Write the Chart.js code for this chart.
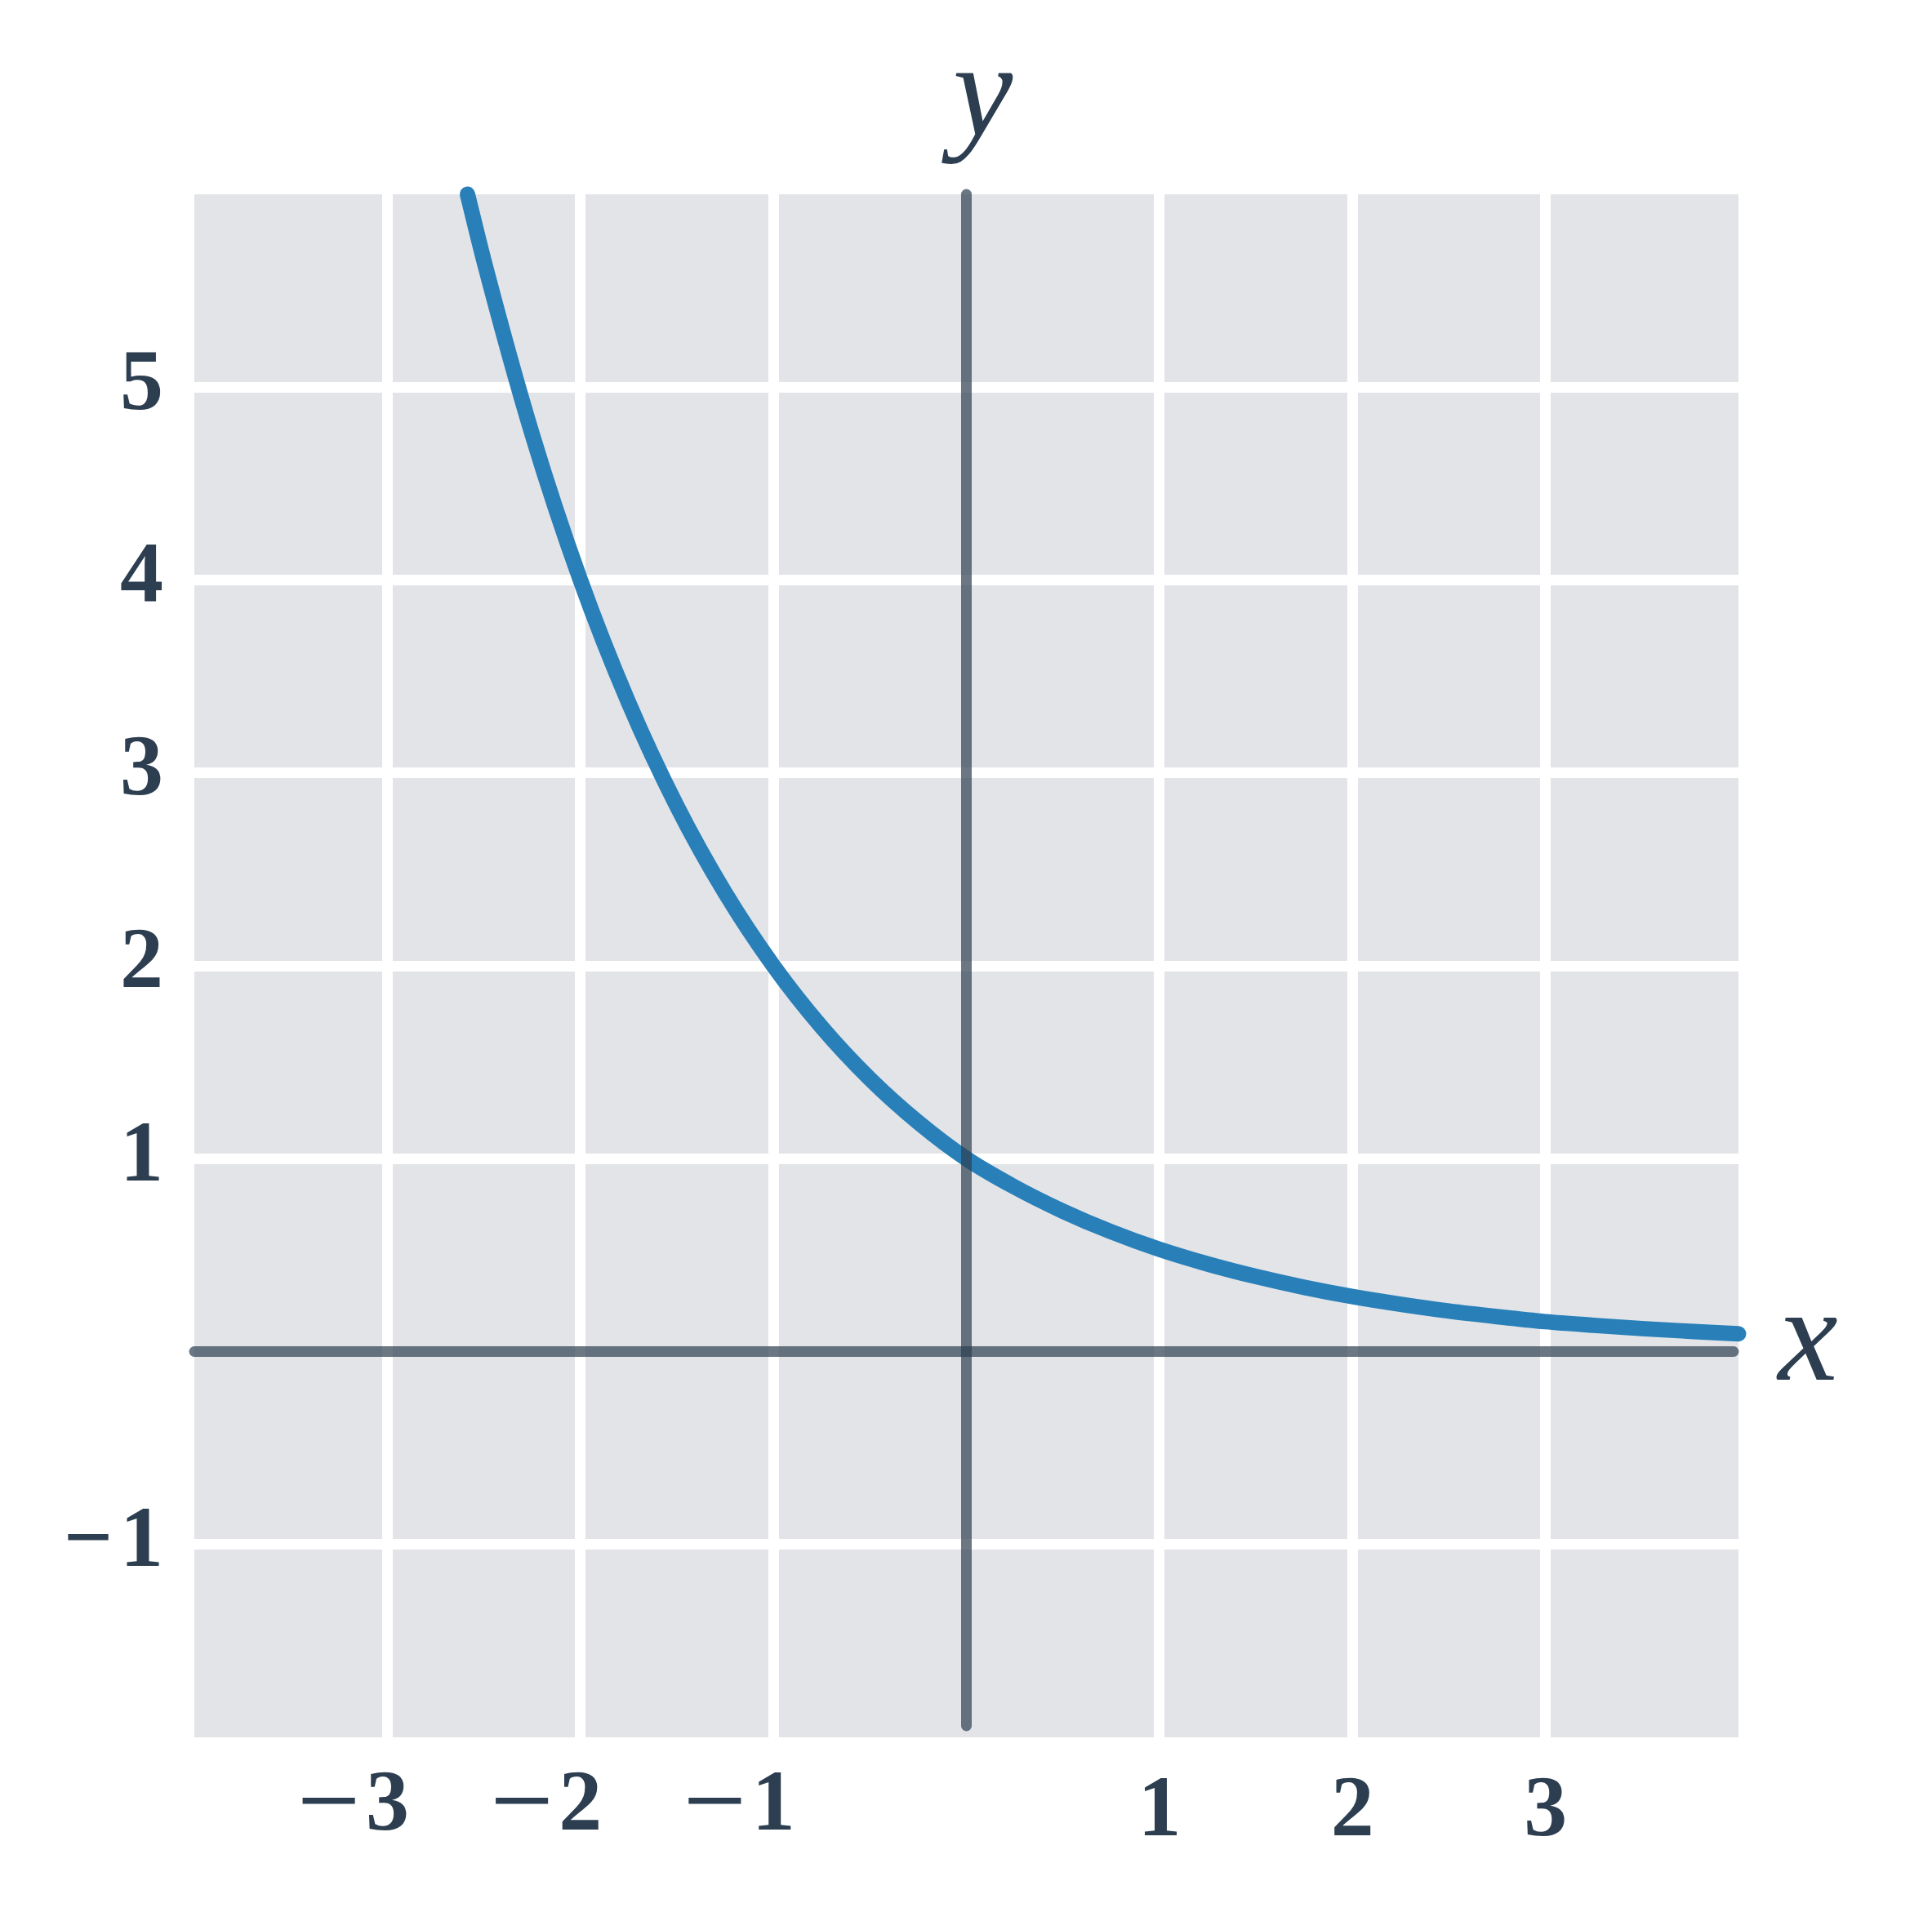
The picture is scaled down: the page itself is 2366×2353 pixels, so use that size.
<!DOCTYPE html>
<html>
<head>
<meta charset="utf-8">
<script src="https://cdn.jsdelivr.net/npm/chart.js@4.4.1/dist/chart.umd.min.js"></script>
<style>
  body { margin: 0; background: #ffffff; }
  canvas { display: block; }
</style>
</head>
<body>
<canvas id="chart" width="2366" height="2353"></canvas>
<script>
// Curve points.
let xValues = [-2.585, -2.5, -2.25, -2, -1.75, -1.5, -1.25, -1, -0.75, -0.5, -0.25, 0, 0.25, 0.5, 0.75, 1, 1.25, 1.5, 1.75, 2, 2.25, 2.5, 2.75, 3, 3.25, 3.5, 3.75, 4];
let yValues = [6.0, 5.657, 4.757, 4.0, 3.364, 2.828, 2.378, 2.0, 1.682, 1.414, 1.189, 1.0, 0.853, 0.728, 0.621, 0.53, 0.454, 0.389, 0.333, 0.285, 0.245, 0.21, 0.181, 0.155, 0.136, 0.119, 0.105, 0.092];

// Tick labels that are shown.
let xTickLabels = [-3, -2, -1, 1, 2, 3];
let yTickLabels = [-1, 1, 2, 3, 4, 5];

let textColor = "#2c3e50";
let axisColor = "rgba(44, 62, 80, 0.7)";
let serif = "'Liberation Serif', 'Times New Roman', serif";
let tickFont = "bold 106px " + serif;

function fmt(v) {
  return v < 0 ? "\u2212\u200A" + Math.abs(v) : String(v);
}

// Gray plot background.
let plotBackground = {
  id: "plotBackground",
  beforeDraw(chart) {
    let a = chart.chartArea;
    let ctx = chart.ctx;
    ctx.save();
    ctx.fillStyle = "#e3e4e8";
    ctx.fillRect(a.left, a.top, a.right - a.left, a.bottom - a.top);
    ctx.restore();
  },
};

// The x and y axis lines, the x tick labels and the axis names.
let axesOverlay = {
  id: "axesOverlay",
  afterDatasetsDraw(chart) {
    let a = chart.chartArea;
    let ctx = chart.ctx;
    let xs = chart.scales.x;
    let ys = chart.scales.y;
    let x0 = xs.getPixelForValue(0);
    let y0 = ys.getPixelForValue(0);
    ctx.save();
    ctx.strokeStyle = axisColor;
    ctx.lineWidth = 13;
    ctx.lineCap = "round";
    ctx.beginPath();
    ctx.moveTo(a.left, y0);
    ctx.lineTo(a.right - 6, y0);
    ctx.stroke();
    ctx.beginPath();
    ctx.moveTo(x0, a.top);
    ctx.lineTo(x0, a.bottom - 14);
    ctx.stroke();

    // x tick labels: digit sits on the tick, minus hangs to the left
    ctx.fillStyle = textColor;
    ctx.font = tickFont;
    ctx.textBaseline = "alphabetic";
    for (let i = 0; i < xTickLabels.length; i++) {
      let v = xTickLabels[i];
      let px = xs.getPixelForValue(v);
      let digit = String(Math.abs(v));
      let w = ctx.measureText(digit).width;
      let base = a.bottom + (v < 0 ? 113 : 120);
      ctx.textAlign = "center";
      ctx.fillText(digit, px, base);
      if (v < 0) {
        ctx.save();
        ctx.translate(px - w / 2 - 6, base);
        ctx.scale(1.3, 1);
        ctx.textAlign = "right";
        ctx.fillText("\u2212", 0, 0);
        ctx.restore();
      }
    }

    // axis names
    ctx.font = "italic 165px " + serif;
    ctx.textAlign = "center";
    ctx.fillText("x", a.right + 85, y0 + 34);
    ctx.fillText("y", x0 + 20, a.top - 72);
    ctx.restore();
  },
};

let chart = new Chart(document.getElementById("chart"), {
  type: "line",
  data: {
    datasets: [
      {
        data: xValues.map((x, i) => ({ x: x, y: yValues[i] })),
        borderColor: "#2980b9",
        borderWidth: 19,
        borderCapStyle: "round",
        borderJoinStyle: "round",
        cubicInterpolationMode: "monotone",
        pointRadius: 0,
        fill: false,
        clip: false,
      },
    ],
  },
  options: {
    responsive: false,
    animation: false,
    events: [],
    layout: { padding: { top: 238, right: 237, left: 0, bottom: 0 } },
    plugins: { legend: { display: false }, tooltip: { enabled: false } },
    scales: {
      x: {
        type: "linear",
        min: -4,
        max: 4,
        border: { display: false },
        ticks: { stepSize: 1, display: false },
        grid: {
          drawTicks: false,
          lineWidth: 13,
          color: (c) => ([-4, 0, 4].includes(c.tick.value) ? "rgba(0,0,0,0)" : "#ffffff"),
        },
        afterFit: (scale) => { scale.height = 225; },
      },
      y: {
        min: -2,
        max: 6,
        border: { display: false },
        ticks: {
          stepSize: 1,
          padding: 38,
          labelOffset: -1,
          color: textColor,
          font: { family: serif, size: 106, weight: "bold" },
          callback: (v) => (yTickLabels.includes(v) ? fmt(v) : ""),
        },
        grid: {
          drawTicks: false,
          lineWidth: 13,
          color: (c) => ([-2, 0, 6].includes(c.tick.value) ? "rgba(0,0,0,0)" : "#ffffff"),
        },
        afterFit: (scale) => { scale.width = 238; },
      },
    },
  },
  plugins: [plotBackground, axesOverlay],
});
</script>
</body>
</html>
